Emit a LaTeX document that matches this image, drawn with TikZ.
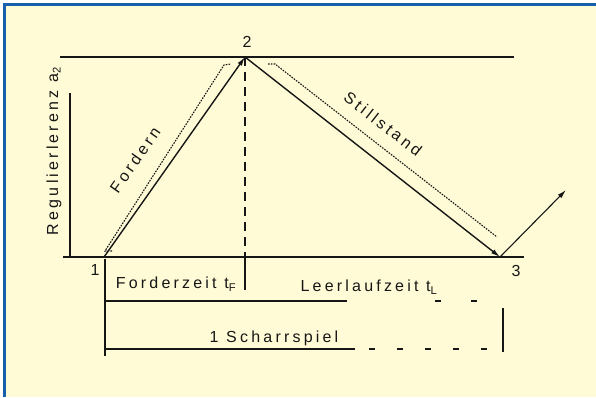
\documentclass[tikz,border=0pt]{standalone}
\usepackage{fontspec}
\newfontfamily\letterfont[LetterSpace=20]{Liberation Sans}
\usepackage{tikz}
\usetikzlibrary{arrows.meta}
\definecolor{paper}{RGB}{255,251,214}
\definecolor{frame}{RGB}{22,96,172}
\definecolor{ink}{RGB}{22,22,22}

\begin{document}
\begin{tikzpicture}[x=1pt,y=-1pt,
  axis line/.style={ink,line width=1.5pt},
  path line/.style={ink,line width=1.4pt,-{Latex[length=9pt,width=5pt]}},
  helper line/.style={ink,line width=1.1pt,dash pattern=on 1.6pt off 1.2pt},
  dim line/.style={ink,line width=1.2pt},
  lettering/.style={ink,inner sep=1pt,font=\letterfont\fontsize{16}{18}\selectfont}]
\useasboundingbox (0,0) rectangle (596,397);
\fill[white] (0,0) rectangle (596,397);
\fill[paper] (5,5) rectangle (596,397);
\draw[frame,line width=3pt] (4.5,397) -- (4.5,4.5) -- (596,4.5);

% points of the cycle
\coordinate (p1) at (104,257);
\coordinate (p2) at (245,57);
\coordinate (p3) at (500,257);
\coordinate (p4) at (566,190);

% axes
\coordinate (topL) at (60,57);
\coordinate (topR) at (514,57);
\coordinate (baseL) at (63,257);
\coordinate (baseR) at (524,257);
\coordinate (yTop) at (70,93);
\coordinate (yBot) at (70,257);
\draw[axis line] (topL) -- (topR);
\draw[axis line] (baseL) -- (baseR);
\draw[axis line] (yTop) -- (yBot);

% cycle
\draw[path line] (p1) -- (p2);
\draw[path line] (p2) -- (p3);
\draw[ink,line width=1.1pt,-{Latex[length=9pt,width=5pt]}] (p3) -- (p4);
\draw[helper line] (112,251) -- (105,251) -- (224,65) -- (231,64);
\draw[helper line] (268,64) -- (275,64) -- (497,237);

% dimension lines
\coordinate (midB) at (245,257);
\coordinate (midD) at (245,290);
\draw[ink,line width=1.3pt,dash pattern=on 9pt off 6pt] (p2) -- (midB);
\draw[dim line] (midB) -- (midD);
\coordinate (extL1) at (105,259);
\coordinate (extL2) at (105,356);
\coordinate (extR1) at (503,308);
\coordinate (extR2) at (503,352);
\draw[dim line] (extL1) -- (extL2);
\draw[dim line] (extR1) -- (extR2);
\coordinate (tA) at (105,301);
\coordinate (tB) at (347,301);
\coordinate (tC) at (503,301);
\draw[dim line] (tA) -- (tB);
\draw[dim line,dash pattern=on 6pt off 30pt] (tB) ++(88,0) -- (tC);
\coordinate (sA) at (105,349);
\coordinate (sB) at (355,349);
\coordinate (sC) at (503,349);
\draw[dim line] (sA) -- (sB);
\draw[dim line,dash pattern=on 6pt off 22pt] (sB) ++(14,0) -- (sC);

% labels
\node[lettering] (n1) at (95,270) {1};
\node[lettering] (n2) at (247,42) {2};
\node[lettering] (n3) at (516,271) {3};
\node[lettering,rotate=90] (ylabel) at (54,151) {Regulierlerenz a\textsubscript{2}};
\node[lettering,rotate=55] (fordern) at (135,160) {Fordern};
\node[lettering,rotate=-38] (stillstand) at (383,124) {Stillstand};
\node[lettering] (tF) at (176,284) {Forderzeit t\textsubscript{F}};
\node[lettering] (tL) at (369,287) {Leerlaufzeit t\textsubscript{L}};
\node[lettering] (spiel) at (274,338) {1 Scharrspiel};
\end{tikzpicture}
\end{document}
